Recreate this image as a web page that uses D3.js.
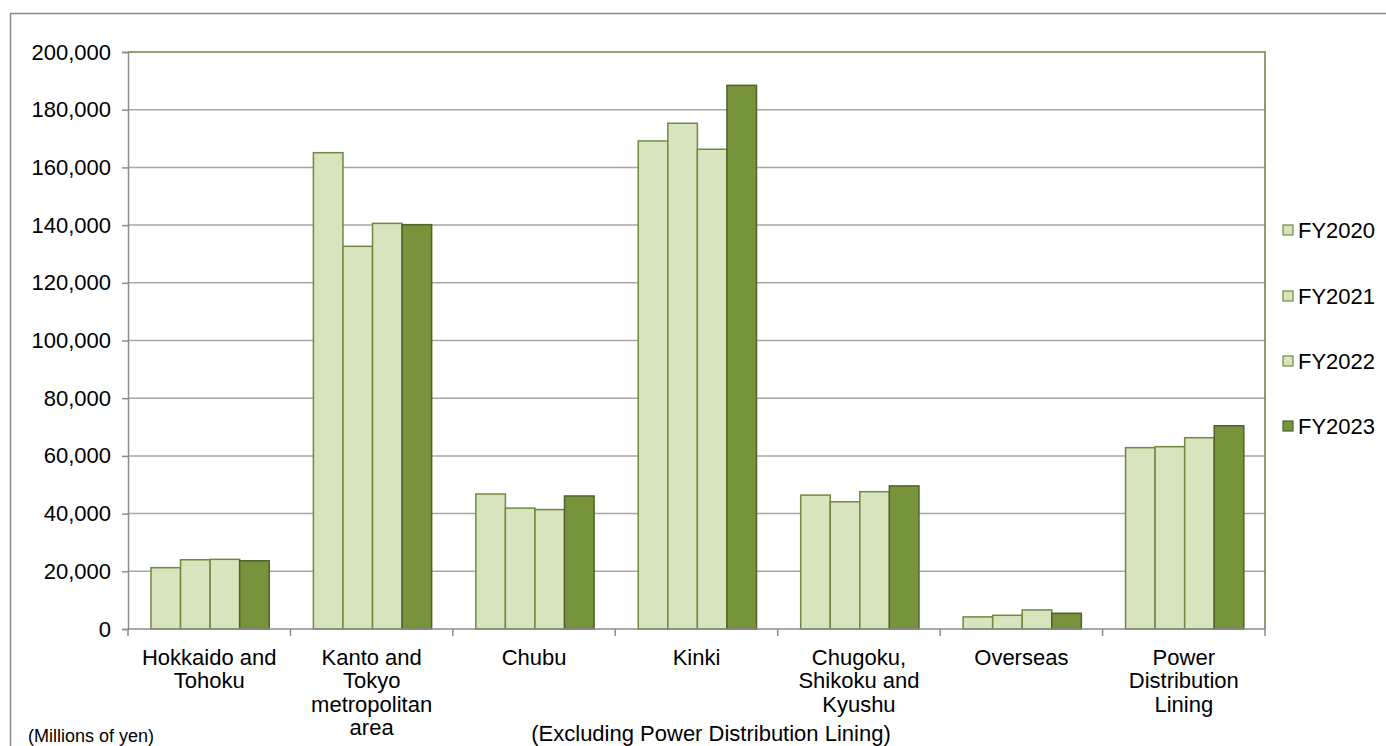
<!DOCTYPE html>
<html>
<head>
<meta charset="utf-8">
<script src="https://cdn.jsdelivr.net/npm/d3@7"></script>
<style>
  html, body { margin: 0; padding: 0; background: #fff; }
  svg { display: block; font-family: "Liberation Sans", Arial, sans-serif; }
</style>
</head>
<body>
<svg id="chart" width="1386" height="746"></svg>
<script>
// Orders by region, millions of yen
const categories = [
  ["Hokkaido and", "Tohoku"],
  ["Kanto and", "Tokyo", "metropolitan", "area"],
  ["Chubu"],
  ["Kinki"],
  ["Chugoku,", "Shikoku and", "Kyushu"],
  ["Overseas"],
  ["Power", "Distribution", "Lining"]
];
const seriesNames = ["FY2020", "FY2021", "FY2022", "FY2023"];
const fy2020 = [21250, 165100, 46800, 169150, 46400, 4200, 62850];
const fy2021 = [24000, 132650, 41900, 175300, 44100, 4750, 63200];
const fy2022 = [24150, 140600, 41400, 166300, 47600, 6600, 66300];
const fy2023 = [23650, 140150, 46100, 188450, 49600, 5450, 70450];
const yTicks = [0, 20000, 40000, 60000, 80000, 100000, 120000, 140000, 160000, 180000, 200000];

const series = [fy2020, fy2021, fy2022, fy2023];
const fills = ["#d8e4bd", "#d8e4bd", "#d8e4bd", "#77933c"];
const strokes = ["#6f8a3e", "#6f8a3e", "#6f8a3e", "#4f6228"];

const svg = d3.select("#chart");
const plotLeft = 128, plotRight = 1265, plotTop = 52, plotBottom = 629;

// Outer frame
svg.append("rect")
  .attr("x", 10.5).attr("y", 13.5)
  .attr("width", 1400).attr("height", 800)
  .attr("fill", "none").attr("stroke", "#8c8c8c").attr("stroke-width", 1.5);

const x = d3.scaleBand().domain(d3.range(categories.length)).range([plotLeft, plotRight]).padding(0);
const groupPad = 0.272;
const xInner = d3.scaleBand().domain(d3.range(series.length))
  .range([x.bandwidth() * groupPad * 0.52, x.bandwidth() * (1 - groupPad * 0.48)]).padding(0);
const y = d3.scaleLinear().domain([0, 200000]).range([plotBottom, plotTop]);

// Gridlines
svg.append("g").selectAll("line").data(yTicks.filter(t => t > 0 && t < 200000)).join("line")
  .attr("x1", plotLeft).attr("x2", plotRight)
  .attr("y1", d => y(d)).attr("y2", d => y(d))
  .attr("stroke", "#a6a6a6").attr("stroke-width", 1.5);

// Plot area top and right border
svg.append("path")
  .attr("d", `M${plotLeft},${y(200000)}H${plotRight}V${plotBottom}`)
  .attr("fill", "none").attr("stroke", "#6f7f45").attr("stroke-width", 1.5);

// Bars
const groups = svg.append("g").selectAll("g").data(categories.map((c, i) => i)).join("g")
  .attr("transform", i => `translate(${x(i)},0)`);
groups.selectAll("rect").data(i => series.map((s, k) => ({ k, v: s[i] }))).join("rect")
  .attr("x", d => xInner(d.k))
  .attr("width", xInner.bandwidth())
  .attr("y", d => y(d.v))
  .attr("height", d => y(0) - y(d.v))
  .attr("fill", d => fills[d.k])
  .attr("stroke", d => strokes[d.k])
  .attr("stroke-width", 1.5);

// Y axis
const yAxis = d3.axisLeft(y).tickValues(yTicks).tickSize(6).tickPadding(11)
  .tickFormat(d3.format(","));
const gy = svg.append("g").attr("transform", `translate(${plotLeft},0)`).call(yAxis);
gy.select(".domain").attr("stroke", "#8c8c8c").attr("stroke-width", 1.5);
gy.selectAll(".tick line").attr("stroke", "#8c8c8c").attr("stroke-width", 1.5);
gy.selectAll(".tick text").attr("font-size", 22).attr("fill", "#000")
  .attr("font-family", "Liberation Sans, Arial, sans-serif");

// X axis line and category boundary ticks
svg.append("line").attr("x1", plotLeft).attr("x2", plotRight).attr("y1", plotBottom).attr("y2", plotBottom)
  .attr("stroke", "#8c8c8c").attr("stroke-width", 1.5);
svg.append("g").selectAll("line").data(d3.range(categories.length + 1)).join("line")
  .attr("x1", i => plotLeft + i * x.bandwidth()).attr("x2", i => plotLeft + i * x.bandwidth())
  .attr("y1", plotBottom).attr("y2", plotBottom + 7)
  .attr("stroke", "#8c8c8c").attr("stroke-width", 1.5);

// Category labels
const lab = svg.append("g").selectAll("text").data(categories.map((c, i) => ({ c, i }))).join("text")
  .attr("x", d => x(d.i) + x.bandwidth() / 2)
  .attr("y", 665)
  .attr("text-anchor", "middle")
  .attr("font-size", 22).attr("fill", "#000");
lab.selectAll("tspan").data(d => d.c.map((t, j) => ({ t, j, cx: x(d.i) + x.bandwidth() / 2 }))).join("tspan")
  .attr("x", d => d.cx)
  .attr("dy", d => d.j === 0 ? 0 : 23.3)
  .text(d => d.t);

// Footnotes
svg.append("text").attr("x", 28).attr("y", 742).attr("font-size", 18).attr("fill", "#000")
  .text("(Millions of yen)");
svg.append("text").attr("x", 711).attr("y", 741).attr("text-anchor", "middle")
  .attr("font-size", 22).attr("fill", "#000")
  .text("(Excluding Power Distribution Lining)");

// Legend
const legendY = [230, 296, 361, 426];
const lg = svg.append("g").selectAll("g").data(seriesNames.map((n, k) => ({ n, k }))).join("g")
  .attr("transform", d => `translate(1283,${legendY[d.k]})`);
lg.append("rect").attr("x", 0).attr("y", -5).attr("width", 10).attr("height", 10)
  .attr("fill", d => fills[d.k]).attr("stroke", d => strokes[d.k]).attr("stroke-width", 1.2);
lg.append("text").attr("x", 15).attr("y", 8).attr("font-size", 22).attr("fill", "#000")
  .text(d => d.n);
</script>
</body>
</html>
